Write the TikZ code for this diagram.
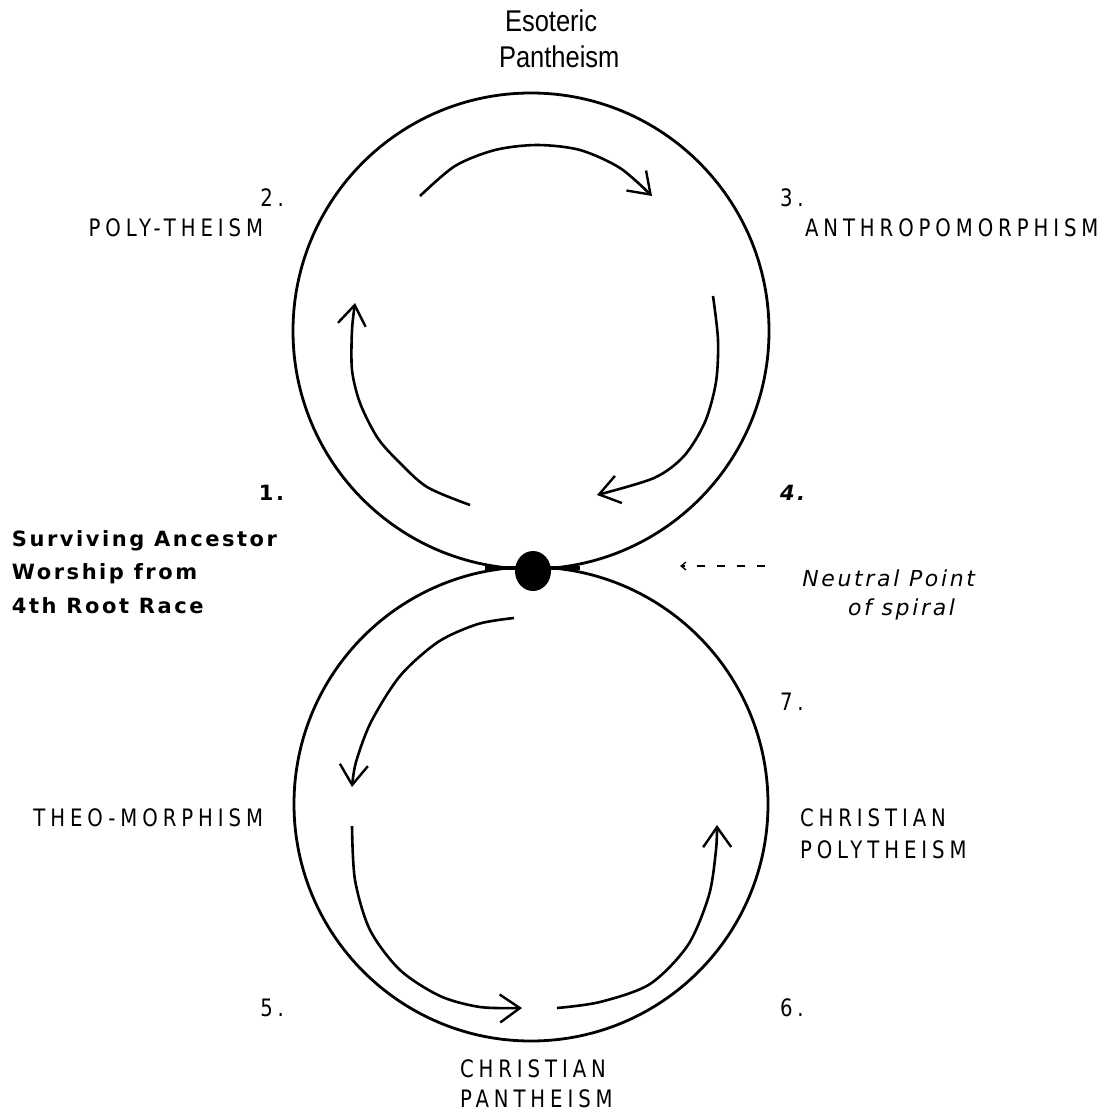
\documentclass[tikz,border=0pt]{standalone}
\usepackage{fontspec}
\usetikzlibrary{arrows.meta}
\newfontfamily\capsfont[LetterSpace=25]{DejaVu Sans}
\newfontfamily\mixfont[LetterSpace=12]{DejaVu Sans}
\newfontfamily\titlefont{Liberation Sans}
\newcommand{\capslbl}[1]{\scalebox{0.82}[1]{\capsfont\fontsize{24}{32}\selectfont #1}}
\newcommand{\mixlbl}[1]{\scalebox{1.0}[1]{\mixfont\bfseries\fontsize{21}{32}\selectfont #1}}
\newcommand{\itlbl}[1]{\scalebox{1.0}[1]{\mixfont\itshape\fontsize{22}{32}\selectfont #1}}
\newcommand{\ttllbl}[1]{\scalebox{0.85}[1]{\titlefont\fontsize{30}{36}\selectfont #1}}
\begin{document}
\begin{tikzpicture}[x=1pt,y=-1pt,
  ring/.style={line width=2.8pt},
  flow/.style={line width=2.6pt,-{Straight Barb[length=20pt,width=28pt,line width=2.4pt]}},
  lbl/.style={inner sep=0pt,outer sep=0pt}]
\useasboundingbox[fill=white] (0,0) rectangle (1102,1116);
% circles
\draw[ring] (531,331) circle[radius=238];
\draw[ring] (531,804) circle[radius=237];
\draw[line width=4pt] (485,568) -- (580,568);
\fill (533,571) ellipse[x radius=18, y radius=20];
% top circle arrows
\draw[flow] plot[smooth] coordinates {(470,505) (427,487) (397,460) (377,437) (360,403) (352,370) (352,330) (355,303)};
\draw[flow] plot[smooth] coordinates {(420,196) (455,166) (495,150) (537,145) (580,150) (620,168) (652,196)};
\draw[flow] plot[smooth] coordinates {(713,296) (718,340) (716,382) (705,422) (684,456) (654,478) (597,495)};
% bottom circle arrows
\draw[flow] plot[smooth] coordinates {(514,618) (478,624) (438,642) (400,676) (371,722) (356,762) (352,787)};
\draw[flow] plot[smooth] coordinates {(352,826) (355,880) (370,930) (400,970) (440,996) (480,1007) (522,1008)};
\draw[flow] plot[smooth] coordinates {(557,1008) (600,1002) (650,984) (688,945) (709,895) (716,850) (717,825)};
% labels
\node[lbl,anchor=west] (eso) at (505,21) {\ttllbl{Esoteric}};
\node[lbl,anchor=west] (pan) at (499,57) {\ttllbl{Pantheism}};
\node[lbl,anchor=east] (n2) at (284,198) {\capslbl{2.}};
\node[lbl,anchor=east] (poly) at (263,228) {\capslbl{POLY-THEISM}};
\node[lbl,anchor=west] (n3) at (780,198) {\capslbl{3.}};
\node[lbl,anchor=west] (anth) at (805,228) {\capslbl{ANTHROPOMORPHISM}};
\node[lbl,anchor=east] (n1) at (284,493) {\mixlbl{1.}};
\node[lbl,anchor=west] (n4) at (780,493) {\mixlbl{\itshape 4.}};
\node[lbl,anchor=west] (s1) at (12,541) {\mixlbl{Surviving Ancestor}};
\node[lbl,anchor=west] (s2) at (12,574) {\mixlbl{Worship from}};
\node[lbl,anchor=west] (s3) at (12,606) {\mixlbl{4th Root Race}};
\node[lbl,anchor=east] (np1) at (975,578) {\itlbl{Neutral Point}};
\node[lbl,anchor=east] (np2) at (955,609) {\itlbl{of spiral}};
\coordinate (npe) at (680,566);
\draw[line width=1.3pt,dash pattern=on 8pt off 12pt,-{Straight Barb[length=5pt,width=8pt]}] (765,566) -- (npe);
\node[lbl,anchor=west] (n7) at (780,702) {\capslbl{7.}};
\node[lbl,anchor=east] (theo) at (263,818) {\capslbl{THEO-MORPHISM}};
\node[lbl,anchor=west] (cp1) at (800,818) {\capslbl{CHRISTIAN}};
\node[lbl,anchor=west] (cp2) at (800,850) {\capslbl{POLYTHEISM}};
\node[lbl,anchor=east] (n5) at (284,1008) {\capslbl{5.}};
\node[lbl,anchor=west] (n6) at (780,1008) {\capslbl{6.}};
\node[lbl,anchor=west] (cpa1) at (460,1069) {\capslbl{CHRISTIAN}};
\node[lbl,anchor=west] (cpa2) at (460,1099) {\capslbl{PANTHEISM}};
\end{tikzpicture}
\end{document}
